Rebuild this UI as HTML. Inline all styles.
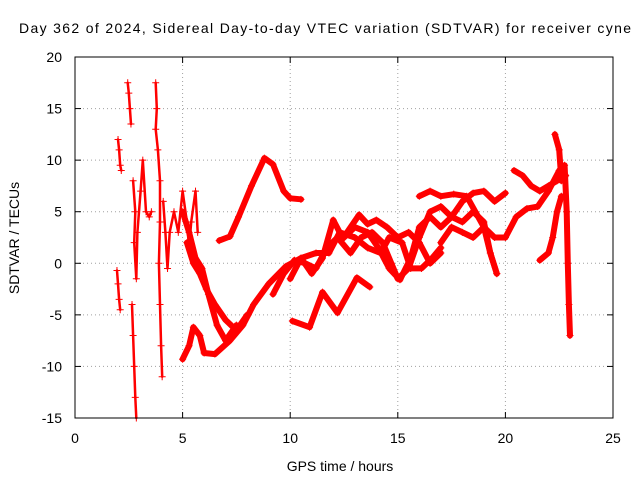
<!DOCTYPE html>
<html><head><meta charset="utf-8">
<style>
html,body{margin:0;padding:0;background:#fff;}
svg{display:block;font-family:"Liberation Sans",sans-serif;}
</style></head>
<body>
<svg id="chart" width="640" height="480" viewBox="0 0 640 480">
<text x="325" y="33" font-size="14" text-anchor="middle" textLength="612">Day 362 of 2024, Sidereal Day-to-day VTEC variation (SDTVAR) for receiver cyne</text>
<g id="grid"></g>
<g id="axes"></g>
<g id="series"></g>
<rect x="75" y="57" width="538" height="361" fill="none" stroke="#000" stroke-width="1"/>
<text x="340" y="471" font-size="14" text-anchor="middle">GPS time / hours</text>
<text transform="translate(19,238) rotate(-90)" font-size="14" text-anchor="middle">SDTVAR / TECUs</text>
</svg>
<script>
const xTicks=[0,5,10,15,20,25];
const yTicks=[-15,-10,-5,0,5,10,15,20];
const trackEarly1=[[2.0,12],[2.05,11],[2.1,9.5],[2.15,9]];
const trackEarly2=[[1.95,-0.7],[2.0,-2],[2.05,-3.5],[2.1,-4.5]];
const trackEarly3=[[2.45,17.5],[2.5,16.5],[2.55,15],[2.6,13.5]];
const trackEarly4=[[2.65,-4],[2.7,-7],[2.75,-10],[2.8,-13],[2.85,-15]];
const trackEarly5=[[2.7,8],[2.8,5],[2.75,2],[2.85,-1.5],[2.9,3],[3.05,7],[3.15,10],[3.3,5],[3.45,4.5],[3.55,5]];
const trackEarly6=[[3.75,17.5],[3.8,15],[3.75,13],[3.85,11],[3.95,8],[3.95,4],[3.9,0],[3.95,-4],[4.0,-8],[4.05,-11]];
const trackEarly7=[[4.1,6],[4.2,3],[4.3,-0.5],[4.4,3],[4.6,5],[4.8,3],[5.0,7],[5.2,4],[5.3,1.5],[5.4,4],[5.6,7],[5.7,3]];
const track1=[[6.7,2.2],[7.2,2.6],[7.6,4.5],[8.2,7.5],[8.8,10.2],[9.2,9.6],[9.7,7],[10.0,6.3],[10.5,6.2]];
const track2=[[5.0,-9.3],[5.3,-8],[5.5,-6.2],[5.8,-7],[6.0,-8.7],[6.5,-8.8],[7.2,-7.5],[7.8,-6],[8.3,-4],[9.0,-2],[9.8,-0.3],[10.5,0.5],[11.0,-1],[11.5,0.5],[12.0,4.2],[12.45,2.4],[13.2,4.7],[13.6,3.8],[14.0,4.2],[14.5,3.5],[15.0,2.5],[15.5,3],[16.0,2],[16.5,0],[17.0,1]];
const track3=[[5.2,2],[5.5,0],[5.8,-1],[6.1,-2.5],[6.5,-4],[7.0,-5.5],[7.5,-6.5],[8.0,-5]];
const track4=[[5.0,5],[5.3,3],[5.6,0.5],[5.9,-0.5],[6.2,-3],[6.6,-6],[7.0,-7.5],[7.5,-6]];
const track5=[[9.2,-3],[9.7,-1],[10.2,0.3],[10.7,0],[11.2,-0.5],[11.7,1.5],[12.2,2.5],[12.8,1],[13.3,2.5],[13.8,3],[14.3,2],[14.7,0],[15.0,-1.5],[15.5,-0.5],[16.0,2.5],[16.5,5],[17.0,5.5],[17.5,4.5],[18.0,6],[18.5,6.8],[19.0,7],[19.5,6],[20.0,6.8]];
const track6=[[10.1,-5.6],[10.9,-6.2],[11.5,-2.8],[12.2,-4.8],[13.1,-1.4],[13.7,-2.3]];
const track7=[[12.5,2.5],[13.0,3.5],[13.6,3],[14.1,1.5],[14.6,-0.5],[15.1,-1.6],[15.6,0.5],[16.0,3.5],[16.5,4.5],[17.0,3.5],[17.5,4.5],[18.0,4],[18.5,5],[19.0,4],[19.3,1],[19.6,-1]];
const track8=[[10.0,-1.5],[10.5,0.5],[11.2,1],[11.8,1],[12.3,3],[13.0,2.5],[13.6,1.5],[14.2,1],[14.6,2.5],[15.2,2],[15.6,-0.5],[16.1,-0.5],[16.6,0.5],[17.0,1.5]];
const track9=[[16.0,6.5],[16.5,7],[17.0,6.5],[17.6,6.7],[18.2,6.5],[18.6,5],[19.0,3.5],[19.3,1],[19.6,-1]];
const track10=[[17.0,2],[17.5,3.5],[18.0,3],[18.5,2.5],[19.0,3.5],[19.5,2.5],[20.0,2.5],[20.5,4.5],[21.0,5.3],[21.5,5.5],[22.0,7],[22.5,9]];
const track11=[[20.4,9],[20.8,8.5],[21.2,7.5],[21.6,7],[22.0,7.5],[22.4,8],[22.8,8.5]];
const track12=[[21.6,0.3],[22.0,1],[22.2,2.5],[22.4,5],[22.6,6.5]];
const track13=[[22.3,12.5],[22.5,11],[22.6,8],[22.75,9.5],[22.85,5],[22.9,0],[22.95,-4],[23.0,-7]];
const tracks=[trackEarly1,trackEarly2,trackEarly3,trackEarly4,trackEarly5,trackEarly6,trackEarly7,track1,track2,track3,track4,track5,track6,track7,track8,track9,track10,track11,track12,track13];

const NS="http://www.w3.org/2000/svg";
const X0=75,X1=613,Y0=418,Y1=57;
function sx(v){return X0+(v-0)/(25-0)*(X1-X0);}
function sy(v){return Y0-(v+15)/(20+15)*(Y0-Y1);}
function mk(tag,attrs,parent){const e=document.createElementNS(NS,tag);for(const k in attrs)e.setAttribute(k,attrs[k]);parent.appendChild(e);return e;}
const grid=document.getElementById('grid'),axes=document.getElementById('axes'),ser=document.getElementById('series');
xTicks.forEach(t=>{
  const x=sx(t);
  if(t>0&&t<25){const g=mk('line',{x1:x,x2:x,y1:Y1,y2:Y0,stroke:'#a0a0a0','stroke-dasharray':'1,3','stroke-width':1},grid);
  
  }
  const tk=mk('line',{x1:x,x2:x,y1:Y0,y2:Y0-6,stroke:'#000'},axes);
  
  
  const tk2=mk('line',{x1:x,x2:x,y1:Y1,y2:Y1+6,stroke:'#000'},axes);
  
  
  const tx=mk('text',{x:x,y:443,'font-size':14,'text-anchor':'middle'},axes);tx.textContent=t;
  
  
});
yTicks.forEach(t=>{
  const y=sy(t);
  if(t>-15&&t<20){const g=mk('line',{x1:X0,x2:X1,y1:y,y2:y,stroke:'#a0a0a0','stroke-dasharray':'1,3','stroke-width':1},grid);
  
  }
  const tk=mk('line',{x1:X0,x2:X0+6,y1:y,y2:y,stroke:'#000'},axes);
  
  
  const tk2=mk('line',{x1:X1,x2:X1-6,y1:y,y2:y,stroke:'#000'},axes);
  
  
  const tx=mk('text',{x:62,y:y+5,'font-size':14,'text-anchor':'end'},axes);tx.textContent=t;
  
  
});
tracks.forEach((tr,i)=>{
  const pts=tr.map(p=>sx(p[0]).toFixed(1)+','+sy(p[1]).toFixed(1)).join(' ');
  const sparse=i<7;
  const pl=mk('polyline',{points:pts,fill:'none',stroke:'#f00','stroke-width':sparse?2.5:6,'stroke-linejoin':'round','stroke-linecap':'round'},ser);
  
  
  tr.forEach(p=>{
    const x=sx(p[0]),y=sy(p[1]);
    const m=mk('path',{d:`M${x-3.5},${y}H${x+3.5}M${x},${y-3.5}V${y+3.5}`,stroke:'#f00','stroke-width':1},ser);
    
    
  });
});
</script>
</body></html>
